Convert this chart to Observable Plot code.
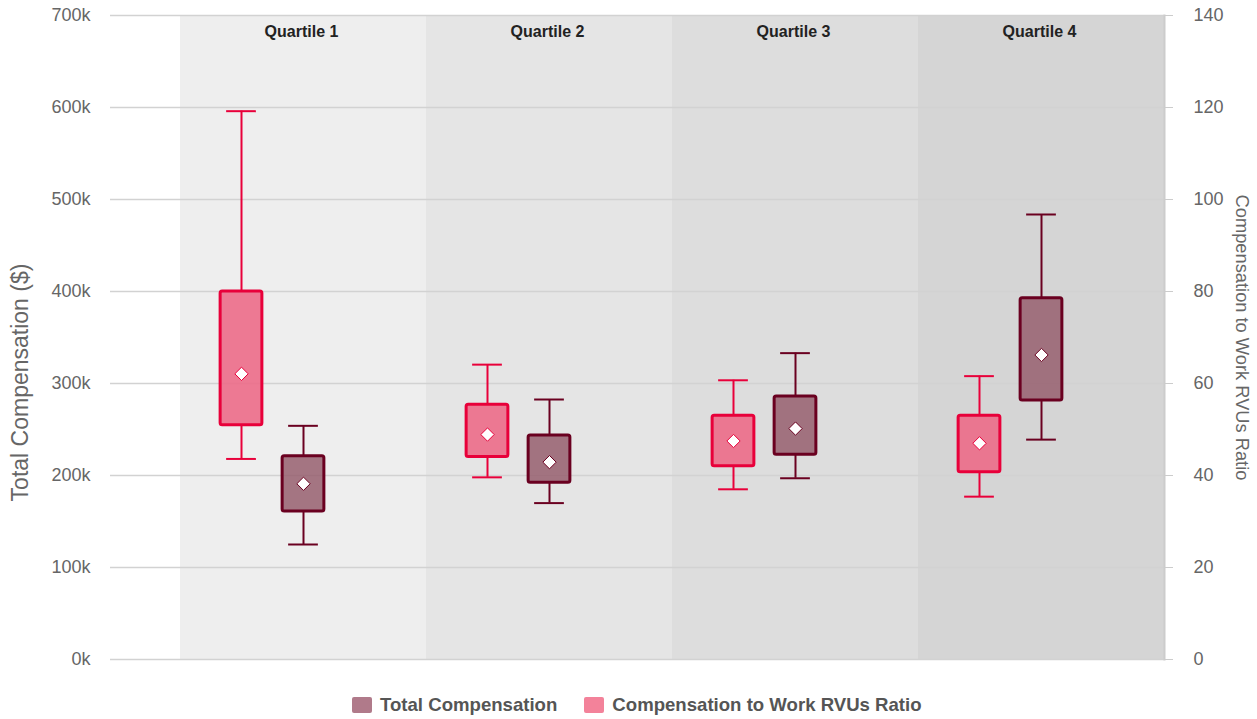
<!DOCTYPE html>
<html>
<head>
<meta charset="utf-8">
<script src="https://cdn.jsdelivr.net/npm/d3@7"></script>
<script src="https://cdn.jsdelivr.net/npm/@observablehq/plot@0.6"></script>
<style>
  html, body { margin: 0; padding: 0; background: #fff; }
  body { font-family: "Liberation Sans", Arial, sans-serif; width: 1257px; }
  #legend { height: 39px; display: flex; align-items: flex-start; padding-left: 352px; padding-top: 15px; box-sizing: border-box; }
  .item { display: flex; align-items: center; font-weight: bold; font-size: 18.6px; line-height: 20px; color: #555; }
  .item + .item { margin-left: 27px; }
  .sw { width: 20px; height: 16px; border-radius: 2px; margin-right: 8px; }
</style>
</head>
<body>
<div id="chart"></div>
<div id="legend"></div>
<script>
// ---------- data ----------
const quartiles = ["Quartile 1", "Quartile 2", "Quartile 3", "Quartile 4"];

// Compensation to Work RVUs Ratio (right axis)
const ratioLow  = [43.6, 39.6, 37.0, 35.4];
const ratioQ1   = [50.9, 44.0, 42.0, 40.7];
const ratioQ3   = [80.0, 55.4, 53.0, 53.0];
const ratioHigh = [119.2, 64.1, 60.7, 61.6];
const ratioMean = [62.1, 48.9, 47.5, 47.0];

// Total Compensation ($, left axis)
const compLow  = [125000, 170000, 197000, 239000];
const compQ1   = [161000, 192000, 222500, 281500];
const compQ3   = [221000, 243500, 286000, 392700];
const compHigh = [254000, 282600, 333000, 483700];
const compMean = [191000, 214500, 251000, 331000];

const leftTicks  = [0, 100000, 200000, 300000, 400000, 500000, 600000, 700000];
const rightTicks = [0, 20, 40, 60, 80, 100, 120, 140];

const seriesNames = ["Total Compensation", "Compensation to Work RVUs Ratio"];
const bandColors = ["#eeeeee", "#e5e5e5", "#dddddd", "#d5d5d5"];

// ---------- layout ----------
const W = 1257, H = 680;
const ML = 110, MR = 93, MT = 15, MB = 21;
const bandStart = 179;
const bw = (W - MR - bandStart) / quartiles.length;
const ratioToComp = leftTicks[leftTicks.length - 1] / rightTicks[rightTicks.length - 1];

const ratioRows = quartiles.map((q, i) => ({
  q, low: ratioLow[i] * ratioToComp, q1: ratioQ1[i] * ratioToComp, q3: ratioQ3[i] * ratioToComp,
  high: ratioHigh[i] * ratioToComp, mean: ratioMean[i] * ratioToComp
}));
const compRows = quartiles.map((q, i) => ({
  q, low: compLow[i], q1: compQ1[i], q3: compQ3[i], high: compHigh[i], mean: compMean[i]
}));

const boxW = 42, capW = 30;
function boxMarks(rows, offset, stroke, fill) {
  const half = bw / 2;
  const bl = half + offset - boxW / 2, br = half - offset - boxW / 2;
  const cl = half + offset - capW / 2, cr = half - offset - capW / 2;
  return [
    Plot.ruleX(rows, {x: "q", y1: "low", y2: "q1", dx: offset, stroke, strokeWidth: 2}),
    Plot.ruleX(rows, {x: "q", y1: "q3", y2: "high", dx: offset, stroke, strokeWidth: 2}),
    Plot.tickY(rows, {x: "q", y: "low", insetLeft: cl, insetRight: cr, stroke, strokeWidth: 2}),
    Plot.tickY(rows, {x: "q", y: "high", insetLeft: cl, insetRight: cr, stroke, strokeWidth: 2}),
    Plot.rectY(rows, {x: "q", y1: "q1", y2: "q3", insetLeft: bl, insetRight: br,
      fill, stroke, strokeWidth: 3, rx: 2}),
    Plot.dot(rows, {x: "q", y: "mean", dx: offset, symbol: "diamond2", r: 6,
      fill: "white", stroke, strokeWidth: 1})
  ];
}

const chart = Plot.plot({
  width: W, height: H,
  marginLeft: ML, marginRight: MR, marginTop: MT, marginBottom: MB,
  style: {fontFamily: "'Liberation Sans', Arial, sans-serif", background: "white"},
  x: {type: "band", domain: quartiles, range: [bandStart, W - MR], padding: 0, axis: null},
  y: {domain: [0, 700000], axis: null},
  color: {type: "identity"},
  marks: [
    Plot.rectY(quartiles, {x: d => d, y1: 0, y2: 700000, fill: (d, i) => bandColors[i]}),
    Plot.ruleY(leftTicks, {stroke: "#d2d2d2", strokeWidth: 1.5}),
    Plot.frame({anchor: "right", stroke: "#cccccc", strokeWidth: 2}),
    Plot.axisY(leftTicks, {anchor: "left", tickSize: 0, tickPadding: 20, fontSize: 18,
      color: "#666", tickFormat: d => d / 1000 + "k", label: null}),
    Plot.axisY(leftTicks, {anchor: "right", tickSize: 8, tickPadding: 21, fontSize: 18,
      color: "#cccccc", tickFormat: () => "", label: null}),
    Plot.axisY(leftTicks, {anchor: "right", tickSize: 0, tickPadding: 29, fontSize: 18,
      color: "#666", tickFormat: d => String(d / ratioToComp), label: null}),
    Plot.text(quartiles, {x: d => d, frameAnchor: "top", dy: 16, dx: -2, lineAnchor: "middle",
      fontWeight: "bold", fontSize: 16, fill: "#222"}),
    Plot.text(["Total Compensation ($)"], {frameAnchor: "left", dx: -90, dy: 45, rotate: -90,
      textAnchor: "middle", lineAnchor: "middle", fontSize: 23, fill: "#666"}),
    Plot.text(["Compensation to Work RVUs Ratio"], {frameAnchor: "right", dx: 77, dy: 0, rotate: 90,
      textAnchor: "middle", lineAnchor: "middle", fontSize: 18.3, fill: "#666"}),
    ...boxMarks(ratioRows, -62, "#e8003a", "rgba(236,108,136,0.9)"),
    ...boxMarks(compRows, 0, "#6a0020", "rgba(150,95,110,0.85)")
  ]
});
document.getElementById("chart").appendChild(chart);

const legendColors = ["#b07a8a", "#f3829a"];
const legend = document.getElementById("legend");
seriesNames.forEach((name, i) => {
  const item = document.createElement("div");
  item.className = "item";
  const sw = document.createElement("div");
  sw.className = "sw";
  sw.style.background = legendColors[i];
  const t = document.createElement("span");
  t.textContent = name;
  item.appendChild(sw);
  item.appendChild(t);
  legend.appendChild(item);
});
</script>
</body>
</html>
